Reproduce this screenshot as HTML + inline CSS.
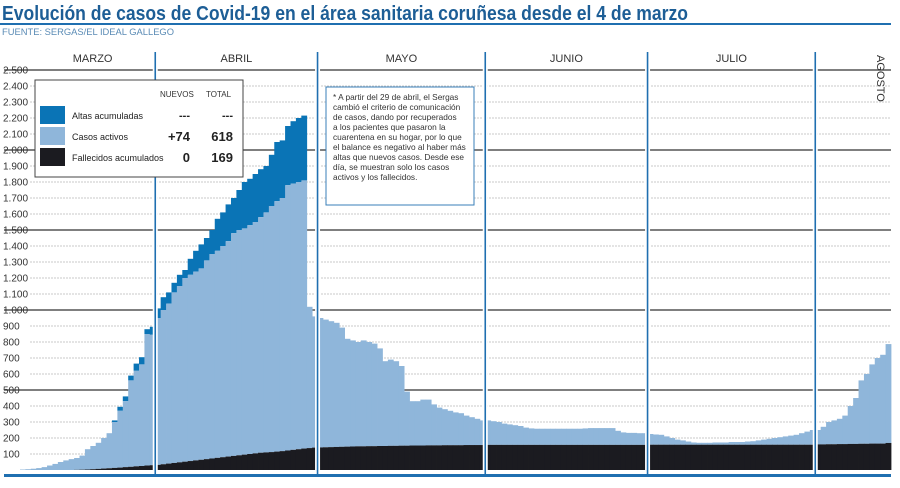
<!DOCTYPE html>
<html><head><meta charset="utf-8"><style>
body{margin:0;background:#fff;width:900px;height:488px;overflow:hidden}
svg{display:block;font-family:"Liberation Sans Narrow","Liberation Sans",sans-serif}
</style></head><body>
<svg id="chart" width="900" height="488" viewBox="0 0 900 488">
<text x="2" y="20" font-size="20" font-weight="bold" fill="#1d5e96" textLength="686" lengthAdjust="spacingAndGlyphs">Evolución de casos de Covid-19 en el área sanitaria coruñesa desde el 4 de marzo</text>
<rect x="0" y="23" width="891" height="2" fill="#1f6fb0"/>
<text x="2" y="35" font-size="9.5" fill="#5a8bb5" textLength="172" lengthAdjust="spacingAndGlyphs">FUENTE: SERGAS/EL IDEAL GALLEGO</text>
<g id="grid"></g><g id="bars"></g><g id="months"></g>
<g>
<rect x="35" y="80" width="208" height="97" fill="#fff" stroke="#444" stroke-width="1"/>
<text x="160" y="97" font-size="8" fill="#333">NUEVOS</text><text x="206" y="97" font-size="8" fill="#333">TOTAL</text>
<rect x="40" y="106" width="25" height="18" fill="#0a74b6"/>
<rect x="40" y="127" width="25" height="18" fill="#8fb6da"/>
<rect x="40" y="148" width="25" height="18" fill="#1b1b20"/>
<text x="72" y="119" font-size="9" fill="#222">Altas acumuladas</text>
<text x="72" y="140" font-size="9" fill="#222">Casos activos</text>
<text x="72" y="161" font-size="9" fill="#222">Fallecidos acumulados</text>
<text x="190" y="119" font-size="11" font-weight="bold" text-anchor="end" fill="#222">---</text>
<text x="233" y="119" font-size="11" font-weight="bold" text-anchor="end" fill="#222">---</text>
<text x="190" y="141" font-size="13" font-weight="bold" text-anchor="end" fill="#222">+74</text>
<text x="233" y="141" font-size="13" font-weight="bold" text-anchor="end" fill="#222">618</text>
<text x="190" y="162" font-size="13" font-weight="bold" text-anchor="end" fill="#222">0</text>
<text x="233" y="162" font-size="13" font-weight="bold" text-anchor="end" fill="#222">169</text>
</g>
<g font-size="8.3" fill="#333">
<rect x="326" y="87" width="148" height="118" fill="#fff" stroke="#3a7fb8" stroke-width="1"/>
<text x="333" y="100">* A partir del 29 de abril, el Sergas</text>
<text x="333" y="110">cambió el criterio de comunicación</text>
<text x="333" y="120">de casos, dando por recuperados</text>
<text x="333" y="130">a los pacientes que pasaron la</text>
<text x="333" y="140">cuarentena en su hogar, por lo que</text>
<text x="333" y="150">el balance es negativo al haber más</text>
<text x="333" y="160">altas que nuevos casos. Desde ese</text>
<text x="333" y="170">día, se muestran solo los casos</text>
<text x="333" y="180">activos y los fallecidos.</text>
</g>
<rect x="4" y="474" width="887" height="3" fill="#1f6fb0"/>
</svg>
<script>
const yTicks=[100,200,300,400,500,600,700,800,900,1000,1100,1200,1300,1400,1500,1600,1700,1800,1900,2000,2100,2200,2300,2400,2500];
const monthLabels=["MARZO","ABRIL","MAYO","JUNIO","JULIO"];
const monthStarts=[0,25,55,86,116,147];
const fallecidos=[0,0,0,0,0,0,0,0,0,0,1,2,3,5,7,9,11,13,15,18,20,23,25,28,30,
32,36,40,44,48,52,56,60,64,68,72,76,80,84,88,92,96,100,104,108,110,112,115,118,122,126,130,134,137,140,
141,142,143,144,145,146,147,148,148,149,149,150,150,151,151,152,152,153,153,153,154,154,154,155,155,155,155,156,156,156,156,
157,157,157,157,157,157,157,157,157,157,157,157,157,157,157,157,157,157,157,157,157,157,157,157,157,157,157,157,157,157,
158,158,158,158,158,158,158,158,158,158,158,158,158,158,158,158,158,158,158,158,158,158,158,158,158,158,158,158,158,158,158,
160,160,161,161,162,162,163,163,164,164,165,165,165,169];
const activos=[3,5,8,12,18,28,38,50,60,68,74,88,127,145,163,191,219,287,355,412,540,597,635,822,815,
918,964,1000,1066,1102,1148,1164,1180,1196,1242,1278,1294,1320,1346,1392,1408,1414,1430,1446,1472,1500,1538,1565,1582,1658,1664,1670,1676,883,820,
809,798,787,776,745,674,663,652,662,651,641,610,530,539,529,498,338,277,277,287,286,256,236,225,215,205,200,184,174,164,154,
153,148,143,133,128,123,118,108,103,101,101,101,101,101,101,101,101,101,103,105,105,105,105,105,88,78,75,75,73,73,
67,64,62,52,42,32,27,20,14,12,12,12,14,14,14,17,17,17,20,22,27,32,37,42,47,52,57,62,72,82,92,
90,110,139,149,158,178,237,287,396,436,495,535,555,618];
const altas=[0,0,0,0,0,0,0,0,0,0,0,0,0,0,0,0,0,10,25,30,30,45,45,30,50,
60,80,70,60,70,50,100,130,150,140,150,200,210,230,220,250,290,290,300,300,290,320,370,360,370,390,400,405,0,0];
const NS="http://www.w3.org/2000/svg";
const X0=20,X1=891,N=fallecidos.length,BW=(X1-X0)/N;
function xs(i){return X0+i*BW;}
function ys(v){return 470-v*0.16;}
function mk(tag,attrs,parent){const e=document.createElementNS(NS,tag);for(const k in attrs)e.setAttribute(k,attrs[k]);parent.appendChild(e);return e;}
const grid=document.getElementById('grid'),bars=document.getElementById('bars'),months=document.getElementById('months');
yTicks.forEach(t=>{
  const major=t%500===0;
  const l=mk('line',{x1:major?4:30,x2:891,y1:ys(t),y2:ys(t),stroke:major?'#555':'#c8c8c8','stroke-width':major?1.5:1,'stroke-dasharray':major?'':'2,1'},grid);
  
  
  const tx=mk('text',{x:3,y:ys(t)+3.5,'font-size':10,fill:'#333'},grid);
  
  
  tx.textContent=t>=1000?Math.floor(t/1000)+'.'+String(t%1000).padStart(3,'0'):String(t);
});
for(let i=0;i<N;i++){
  const d=fallecidos[i],a=activos[i],r=altas[i]||0,x=xs(i),w=BW+0.4;
  if(r>0){const b=mk('rect',{x:x,y:ys(d+a+r),width:w,height:r*0.16,fill:'#0a74b6'},bars);
    
    }
  const b2=mk('rect',{x:x,y:ys(d+a),width:w,height:a*0.16,fill:'#8fb6da'},bars);
  
  
  if(d>0){const b3=mk('rect',{x:x,y:ys(d),width:w,height:d*0.16,fill:'#1b1b20'},bars);
    
    }
}
for(let m=1;m<monthStarts.length;m++){
  const x=xs(monthStarts[m]);
  mk('rect',{x:x-2.5,y:62,width:5,height:412,fill:'#fff'},months);
  const l=mk('line',{x1:x,x2:x,y1:52,y2:474,stroke:'#1f6fb0','stroke-width':1.6},months);
  
  
}
monthLabels.forEach((lab,m)=>{
  const x0=m===0?30:xs(monthStarts[m]),x1=xs(monthStarts[m+1]);
  const t=mk('text',{x:(x0+x1)/2,y:62,'font-size':11,'text-anchor':'middle',fill:'#333'},months);
  
  
  t.textContent=lab;
});
const ag=mk('text',{x:0,y:0,'font-size':11,fill:'#333',transform:'translate(877,55) rotate(90)'},months);


ag.textContent='AGOSTO';
</script>
</body></html>
